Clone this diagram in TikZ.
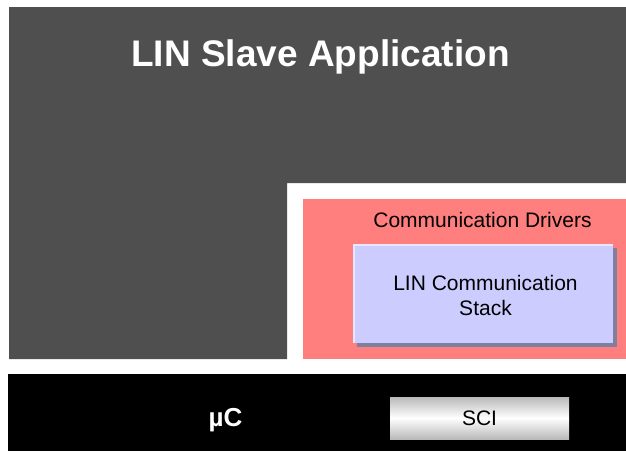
\documentclass[tikz,border=0pt]{standalone}
\usepackage{fontspec}
\setmainfont{Liberation Sans}
\definecolor{appgray}{HTML}{4F4F4F}
\definecolor{drvpink}{HTML}{FF7F7F}
\definecolor{stackblue}{HTML}{CCCCFF}
\definecolor{stackshadow}{HTML}{7F7F9F}
\definecolor{stacklight}{HTML}{E6E6FF}
\begin{document}
\begin{tikzpicture}[x=1pt,y=-1pt,
  lbl/.style={inner sep=0pt,anchor=base,align=center},
  title/.style={lbl,text=white,font=\fontsize{37}{44}\selectfont\bfseries},
  small/.style={lbl,text=black,font=\fontsize{21}{25}\selectfont}]
\useasboundingbox (0,0) rectangle (626,451);
% LIN slave application (L-shape)
\fill[appgray] (9,7) -- (626,7) -- (626,183) -- (287,183) -- (287,359) -- (9,359) -- cycle;
\node[title] (app) at (320.5,66.5) {LIN Slave Application};
% communication drivers
\fill[drvpink] (303,199) rectangle (626,359);
\node[small] (drv) at (482.5,227.5) {Communication Drivers};
% LIN communication stack
\fill[stackshadow] (357,248) rectangle (617,347);
\fill[stackblue] (353,244) rectangle (613,343);
\draw[stacklight,line width=2pt] (354,343) -- (354,245) -- (613,245);
\node[small] (stack) at (485.5,290.3) {LIN Communication};
\node[small] (stack2) at (485.5,315.8) {Stack};
% microcontroller
\fill[black] (8,374) rectangle (626,451);
\node[lbl,text=white,font=\fontsize{26}{30}\selectfont\bfseries] (uc) at (225.5,426) {µC};
% SCI
\shade[top color=gray!55,bottom color=gray!55,middle color=white] (390,397) rectangle (569,439);
\node[small] (sci) at (479.5,425.7) {SCI};
\end{tikzpicture}
\end{document}
